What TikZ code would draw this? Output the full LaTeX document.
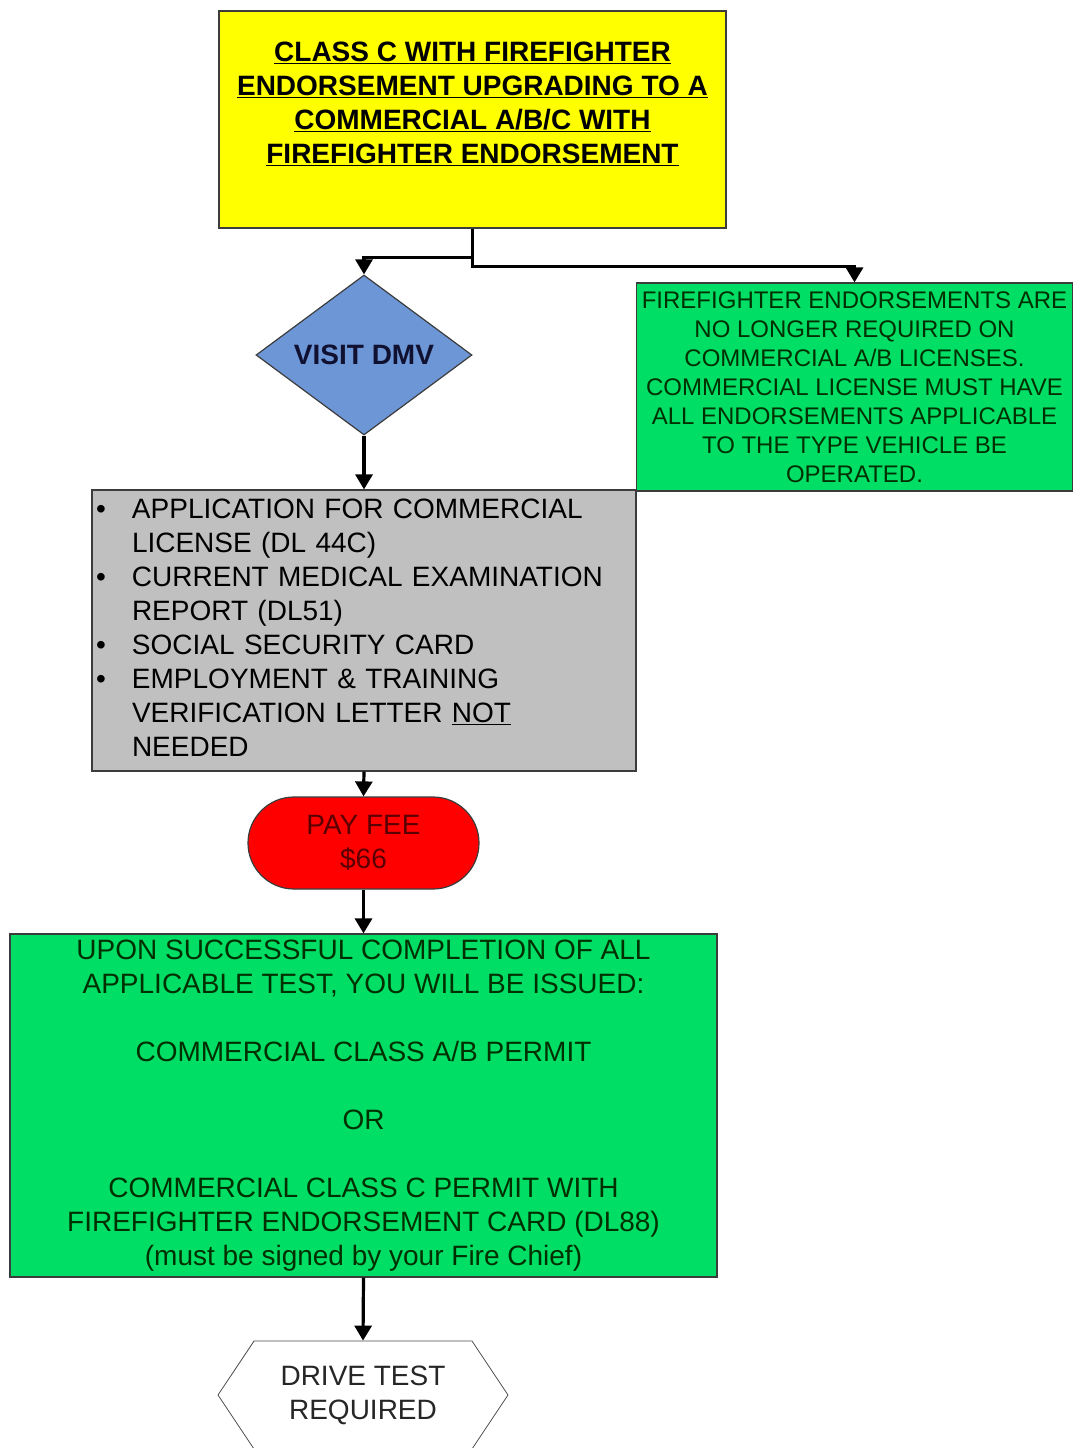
\documentclass[tikz,border=0pt]{standalone}
\usepackage{fontspec}
\setmainfont{Liberation Sans}
\usepackage{tikz}
\usetikzlibrary{shapes.geometric,shapes.symbols,arrows.meta}

\definecolor{boxyellow}{RGB}{255,255,0}
\definecolor{dmvblue}{RGB}{109,150,214}
\definecolor{docgray}{RGB}{192,192,192}
\definecolor{passgreen}{RGB}{0,222,102}
\definecolor{feered}{RGB}{255,0,0}
\definecolor{greentext}{RGB}{0,48,0}
\definecolor{bluetext}{RGB}{16,16,48}
\definecolor{redtext}{RGB}{90,0,0}
\definecolor{edgegray}{RGB}{60,60,60}

\begin{document}
\begin{tikzpicture}[x=1pt,y=-1pt,
		box/.style={draw=edgegray,line width=1.2pt,inner sep=0pt,font=\fontsize{28}{34}\selectfont},
		link/.style={line width=3.2pt,-{Triangle[width=17pt,length=15pt]}}]
			\useasboundingbox (0,0) rectangle (1073,1448);
			
			\node[box,fill=boxyellow,minimum width=507pt,minimum height=217pt,align=center,
				font=\fontsize{28}{34}\selectfont\bfseries] (title) at (472.5,119.5)
				{\underline{CLASS C WITH FIREFIGHTER}\\
				 \underline{ENDORSEMENT UPGRADING TO A}\\
				 \underline{COMMERCIAL A/B/C WITH}\\
				 \underline{FIREFIGHTER ENDORSEMENT}\\
				 \mbox{}};
			
			\node[box,diamond,aspect=1.35,fill=dmvblue,text=bluetext,minimum width=216pt,minimum height=160pt,
				font=\fontsize{28}{34}\selectfont\bfseries] (visit) at (364,355) {VISIT DMV};
			
			\node[box,fill=passgreen,text=greentext,minimum width=436pt,minimum height=208pt,align=center,
				font=\fontsize{24}{29}\selectfont] (note) at (854.5,387)
				{FIREFIGHTER ENDORSEMENTS ARE\\
				 NO LONGER REQUIRED ON\\
				 COMMERCIAL A/B LICENSES.\\
				 COMMERCIAL LICENSE MUST HAVE\\
				 ALL ENDORSEMENTS APPLICABLE\\
				 TO THE TYPE VEHICLE BE\\
				 OPERATED.};
			
			\node[box,fill=docgray,minimum width=544pt,minimum height=281pt,text width=536pt,align=left] (docs) at (364,630.5)
				{\begin{tabular}{@{}p{36pt}@{}l@{}}
					\textbullet & APPLICATION FOR COMMERCIAL\\
					            & LICENSE (DL 44C)\\
					\textbullet & CURRENT MEDICAL EXAMINATION\\
					            & REPORT (DL51)\\
					\textbullet & SOCIAL SECURITY CARD\\
					\textbullet & EMPLOYMENT \& TRAINING\\
					            & VERIFICATION LETTER \underline{NOT}\\
					            & NEEDED
				\end{tabular}};
			
			\node[box,rounded corners=46pt,fill=feered,text=redtext,minimum width=231pt,minimum height=92pt,align=center]
				(fee) at (363.5,843) {PAY FEE\\\$66};
			
			\node[box,fill=passgreen,text=greentext,minimum width=707pt,minimum height=343pt,align=center] (result) at (363.5,1105.5)
				{UPON SUCCESSFUL COMPLETION OF ALL\\
				 APPLICABLE TEST, YOU WILL BE ISSUED:\\[34pt]
				 COMMERCIAL CLASS A/B PERMIT\\[34pt]
				 OR\\[34pt]
				 COMMERCIAL CLASS C PERMIT WITH\\
				 FIREFIGHTER ENDORSEMENT CARD (DL88)\\
				 (must be signed by your Fire Chief)};
			
			\node[box,signal,signal to=west and east,signal pointer angle=112.6,draw=black!70,line width=0.8pt,fill=white,
				text=black!85,minimum width=290pt,minimum height=108pt,align=center] (drive) at (363,1395)
				{DRIVE TEST\\REQUIRED};
			
			% connectors
			\draw[link] (title.south) -- ++(0,29) -| (visit.north);
			\draw[link] (title.south) -- ++(0,38) -| (note.north);
			\draw[link] (visit.south) -- (docs.north);
			\draw[link] (docs.south) -- (fee.north);
			\draw[link] (fee.south) -- (result.north);
			\draw[link] (result.south) -- (drive.north);
\end{tikzpicture}
\end{document}
